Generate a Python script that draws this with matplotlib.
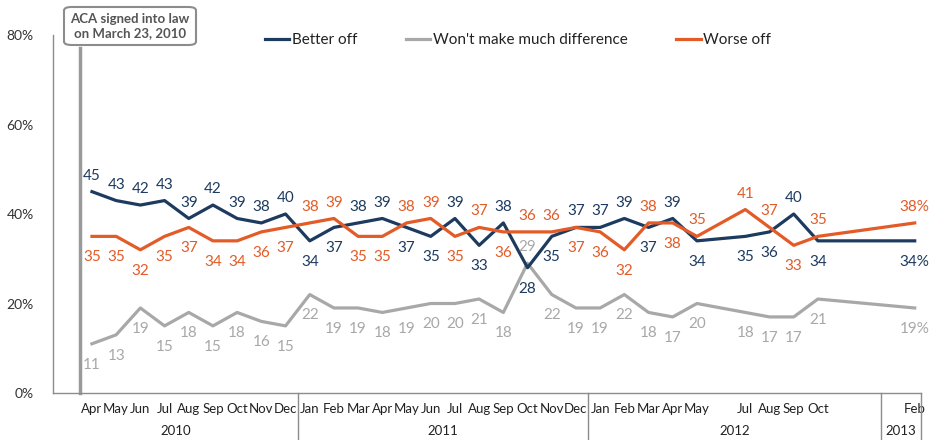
import matplotlib
matplotlib.use("Agg")
import matplotlib.pyplot as plt
from matplotlib.patches import FancyBboxPatch

plt.rcParams["font.family"] = ["Lato", "DejaVu Sans"]

# month index: 0 = Apr 2010 ... 34 = Feb 2013
MONTHS = [0, 1, 2, 3, 4, 5, 6, 7, 8,
          9, 10, 11, 12, 13, 14, 15, 16, 17, 18, 19, 20,
          21, 22, 23, 24, 25, 27, 28, 29, 30,
          34]
BETTER = [45, 43, 42, 43, 39, 42, 39, 38, 40,
          34, 37, 38, 39, 37, 35, 39, 33, 38, 28, 35, 37,
          37, 39, 37, 39, 34, 35, 36, 40, 34,
          34]
NO_DIFF = [11, 13, 19, 15, 18, 15, 18, 16, 15,
           22, 19, 19, 18, 19, 20, 20, 21, 18, 29, 22, 19,
           19, 22, 18, 17, 20, 18, 17, 17, 21,
           19]
WORSE = [35, 35, 32, 35, 37, 34, 34, 36, 37,
         38, 39, 35, 35, 38, 39, 35, 37, 36, 36, 36, 37,
         36, 32, 38, 38, 35, 41, 37, 33, 35,
         38]

# label placement: 1 = above the line, -1 = below
BETTER_POS = [1] * 9 + [-1, -1, 1, 1, -1, -1, 1, -1, 1, -1, -1, 1,
                        1, 1, -1, 1, -1, -1, -1, 1, -1, -1]
WORSE_POS = [-1] * 9 + [1, 1, -1, -1, 1, 1, -1, 1, -1, 1, 1, -1,
                        -1, -1, 1, -1, 1, 1, 1, -1, 1, 1]
NO_DIFF_POS = [-1] * 18 + [1] + [-1] * 12

TICK_POS = [0, 1, 2, 3, 4, 5, 6, 7, 8,
            9, 10, 11, 12, 13, 14, 15, 16, 17, 18, 19, 20,
            21, 22, 23, 24, 25, 27, 28, 29, 30, 34]
TICK_LABELS = ["Apr", "May", "Jun", "Jul", "Aug", "Sep", "Oct", "Nov", "Dec",
               "Jan", "Feb", "Mar", "Apr", "May", "Jun", "Jul", "Aug", "Sep", "Oct", "Nov", "Dec",
               "Jan", "Feb", "Mar", "Apr", "May", "Jul", "Aug", "Sep", "Oct", "Feb"]
YEARS = ["2010", "2011", "2012", "2013"]
YEAR_BOUNDS = [-1.61, 8.5, 20.5, 32.6, 34.26]

NAVY = "#1D3A5F"
GREY = "#A8A8A8"
ORANGE = "#E35B27"
AXIS = "#8C8C8C"

fig = plt.figure(figsize=(9.39, 4.4), dpi=100)
ax = fig.add_axes([53 / 939, 47 / 440, 868 / 939, 358 / 440])
ax.set_xlim(YEAR_BOUNDS[0], YEAR_BOUNDS[-1])
ax.set_ylim(0, 80)

ax.plot(MONTHS, BETTER, color=NAVY, lw=2.3, label="Better off", zorder=3)
ax.plot(MONTHS, NO_DIFF, color=GREY, lw=2.3, label="Won't make much difference", zorder=2)
ax.plot(MONTHS, WORSE, color=ORANGE, lw=2.3, label="Worse off", zorder=3)


def label_series(xs, ys, pos, color, last_pct=True):
    for i, (x, y, p) in enumerate(zip(xs, ys, pos)):
        txt = f"{y}%" if (last_pct and i == len(ys) - 1) else f"{y}"
        off = 11.5 if p > 0 else -15
        ax.annotate(txt, (x, y), xytext=(0, off), textcoords="offset points",
                    ha="center", va="center", fontsize=11, color=color, zorder=4)


label_series(MONTHS, BETTER, BETTER_POS, NAVY)
label_series(MONTHS, WORSE, WORSE_POS, ORANGE)
label_series(MONTHS, NO_DIFF, NO_DIFF_POS, GREY)

# axes styling
for side in ["top", "right"]:
    ax.spines[side].set_visible(False)
for side in ["left", "bottom"]:
    ax.spines[side].set_color(AXIS)
    ax.spines[side].set_linewidth(1)
ax.set_yticks([0, 20, 40, 60, 80])
ax.set_yticklabels(["0%", "20%", "40%", "60%", "80%"])
ax.tick_params(axis="y", length=0, pad=14, labelsize=10, labelcolor="#333333")
ax.set_xticks(TICK_POS)
ax.set_xticklabels(TICK_LABELS)
ax.tick_params(axis="x", length=0, pad=7, labelsize=9.5, labelcolor="#222222")

# year separators and labels below the axis
trans = ax.get_xaxis_transform()
for b in YEAR_BOUNDS[1:]:
    ax.plot([b, b], [0, -0.13], color=AXIS, lw=1, transform=trans, clip_on=False)
for i, yr in enumerate(YEARS):
    mid = (YEAR_BOUNDS[i] + YEAR_BOUNDS[i + 1]) / 2
    ax.text(mid, -0.105, yr, transform=trans, ha="center", va="center",
            fontsize=9.5, color="#222222")

# ACA signing marker
ax.plot([-0.5, -0.5], [0, 0.965], color="#9A9A9A", lw=2.5, transform=trans,
        clip_on=False, zorder=1)
box = FancyBboxPatch((64 / 939, 395 / 440), 132 / 939, 38 / 440,
                     boxstyle="round,pad=0,rounding_size=0.008",
                     transform=fig.transFigure, facecolor="white",
                     edgecolor="#8C8C8C", lw=1.5)
fig.patches.append(box)
fig.text(130 / 939, 414 / 440, "ACA signed into law\non March 23, 2010",
         ha="center", va="center", fontsize=9.5, fontweight="bold",
         color="#555555", linespacing=1.15)

leg = ax.legend(loc="center left", bbox_to_anchor=(265 / 939, 400 / 440),
                bbox_transform=fig.transFigure, ncol=3, frameon=False,
                fontsize=11, handlelength=1.6, handletextpad=0.15,
                columnspacing=3.2, borderaxespad=0, borderpad=0)
for t in leg.get_texts():
    t.set_color("#222222")

fig.savefig("out.png", dpi=100)
